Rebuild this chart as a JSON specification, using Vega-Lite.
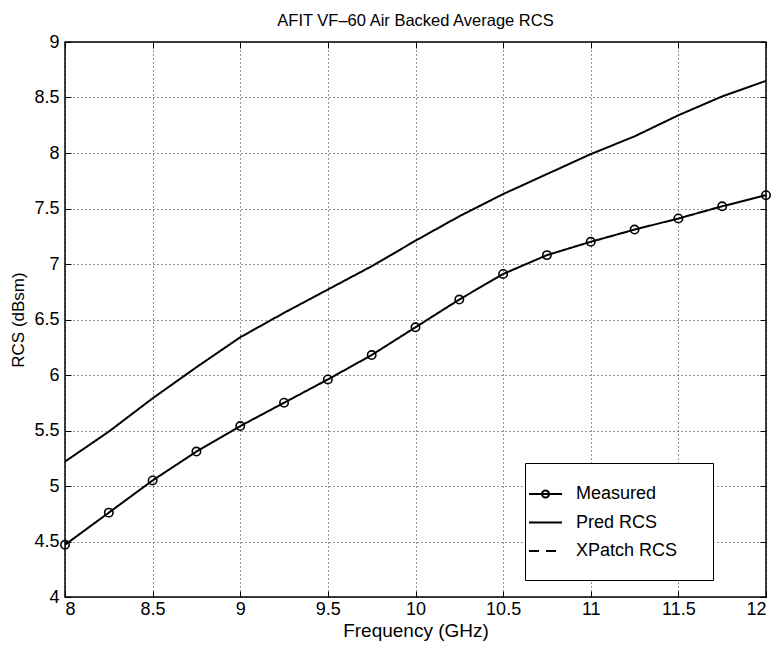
{
  "$schema": "https://vega.github.io/schema/vega-lite/v6.json",
  "width": 701,
  "height": 555,
  "autosize": {"type": "none"},
  "padding": {"left": 65, "top": 42, "right": 14, "bottom": 50},
  "background": "white",
  "title": {"text": "AFIT VF–60 Air Backed Average RCS", "font": "Liberation Sans", "fontSize": 16.5, "fontWeight": "normal", "color": "black", "anchor": "middle", "offset": 4},
  "config": {
    "view": {"stroke": "black", "strokeWidth": 1.5},
    "axis": {
      "domain": false,
      "grid": true,
      "gridColor": "black",
      "gridDash": [1, 3],
      "gridOpacity": 0.85,
      "gridWidth": 1,
      "tickColor": "black",
      "tickSize": -6,
      "tickWidth": 1,
      "labelFont": "Liberation Sans",
      "labelFontSize": 18,
      "labelColor": "black",
      "titleFont": "Liberation Sans",
      "titleFontSize": 17,
      "titleFontWeight": "normal",
      "titleColor": "black"
    }
  },
  "data": {"values": [
    {"series": "Measured", "freq": 8.0, "rcs": 4.47},
    {"series": "Measured", "freq": 8.25, "rcs": 4.76},
    {"series": "Measured", "freq": 8.5, "rcs": 5.05},
    {"series": "Measured", "freq": 8.75, "rcs": 5.31},
    {"series": "Measured", "freq": 9.0, "rcs": 5.54},
    {"series": "Measured", "freq": 9.25, "rcs": 5.75},
    {"series": "Measured", "freq": 9.5, "rcs": 5.96},
    {"series": "Measured", "freq": 9.75, "rcs": 6.18},
    {"series": "Measured", "freq": 10.0, "rcs": 6.43},
    {"series": "Measured", "freq": 10.25, "rcs": 6.68},
    {"series": "Measured", "freq": 10.5, "rcs": 6.91},
    {"series": "Measured", "freq": 10.75, "rcs": 7.08},
    {"series": "Measured", "freq": 11.0, "rcs": 7.2},
    {"series": "Measured", "freq": 11.25, "rcs": 7.31},
    {"series": "Measured", "freq": 11.5, "rcs": 7.41},
    {"series": "Measured", "freq": 11.75, "rcs": 7.52},
    {"series": "Measured", "freq": 12.0, "rcs": 7.62},
    {"series": "Pred RCS", "freq": 8.0, "rcs": 5.22},
    {"series": "Pred RCS", "freq": 8.25, "rcs": 5.49},
    {"series": "Pred RCS", "freq": 8.5, "rcs": 5.79},
    {"series": "Pred RCS", "freq": 8.75, "rcs": 6.07},
    {"series": "Pred RCS", "freq": 9.0, "rcs": 6.34},
    {"series": "Pred RCS", "freq": 9.25, "rcs": 6.56},
    {"series": "Pred RCS", "freq": 9.5, "rcs": 6.77},
    {"series": "Pred RCS", "freq": 9.75, "rcs": 6.98},
    {"series": "Pred RCS", "freq": 10.0, "rcs": 7.21},
    {"series": "Pred RCS", "freq": 10.25, "rcs": 7.43},
    {"series": "Pred RCS", "freq": 10.5, "rcs": 7.63},
    {"series": "Pred RCS", "freq": 10.75, "rcs": 7.81},
    {"series": "Pred RCS", "freq": 11.0, "rcs": 7.99},
    {"series": "Pred RCS", "freq": 11.25, "rcs": 8.15},
    {"series": "Pred RCS", "freq": 11.5, "rcs": 8.34},
    {"series": "Pred RCS", "freq": 11.75, "rcs": 8.51},
    {"series": "Pred RCS", "freq": 12.0, "rcs": 8.65}
  ]},
  "resolve": {"axis": {"x": "independent", "y": "independent"}},
  "layer": [
    {
      "mark": {"type": "line", "strokeWidth": 2, "color": "black"},
      "encoding": {
        "x": {"field": "freq", "type": "quantitative",
              "scale": {"domain": [8, 12], "nice": false, "zero": false},
              "axis": {"values": [8, 8.5, 9, 9.5, 10, 10.5, 11, 11.5, 12], "format": "~g", "title": "Frequency (GHz)", "titleFontSize": 19, "labelPadding": 9, "titlePadding": 3}},
        "y": {"field": "rcs", "type": "quantitative",
              "scale": {"domain": [4, 9], "nice": false, "zero": false},
              "axis": {"values": [4, 4.5, 5, 5.5, 6, 6.5, 7, 7.5, 8, 8.5, 9], "format": "~g", "title": "RCS (dBsm)", "labelPadding": 12, "titlePadding": 6}},
        "strokeDash": {"field": "series", "type": "nominal",
              "scale": {"domain": ["Measured", "Pred RCS", "XPatch RCS"], "range": [[1, 0], [1, 0], [10, 7]]},
              "legend": {
                "orient": "none", "legendX": 460, "legendY": 421,
                "title": null,
                "padding": 20,
                "strokeColor": "black", "fillColor": "white",
                "labelFont": "Liberation Sans", "labelFontSize": 18, "labelColor": "black",
                "labelOffset": 9, "rowPadding": 8.5,
                "symbolSize": 400, "symbolStrokeColor": "black", "symbolStrokeWidth": 2, "symbolFillColor": "white",
                "labelExpr": "datum.label + '\u00a0\u00a0\u00a0\u200b'",
                "encode": {"symbols": {"update": {"shape": {"signal": "datum.value === 'Measured' ? 'M-2.7,0L0.6,0M-1.4,0A0.35,0.35 0 1,0 -0.7,0A0.35,0.35 0 1,0 -1.4,0' : 'M-2.7,0L0.6,0'"}}}}
              }}
      }
    },
    {
      "transform": [{"filter": "datum.series === 'Measured'"}],
      "mark": {"type": "point", "filled": false, "size": 70, "strokeWidth": 1.6, "color": "black", "opacity": 1},
      "encoding": {
        "x": {"field": "freq", "type": "quantitative", "axis": null},
        "y": {"field": "rcs", "type": "quantitative", "axis": null}
      }
    },
    {
      "transform": [{"filter": "datum.series === 'Measured'"}],
      "mark": {"type": "point", "opacity": 0},
      "encoding": {
        "x": {"field": "freq", "type": "quantitative",
              "axis": {"orient": "top", "values": [8, 8.5, 9, 9.5, 10, 10.5, 11, 11.5, 12], "labels": false, "grid": false, "title": null}},
        "y": {"field": "rcs", "type": "quantitative",
              "axis": {"orient": "right", "values": [4, 4.5, 5, 5.5, 6, 6.5, 7, 7.5, 8, 8.5, 9], "labels": false, "grid": false, "title": null}}
      }
    }
  ]
}
